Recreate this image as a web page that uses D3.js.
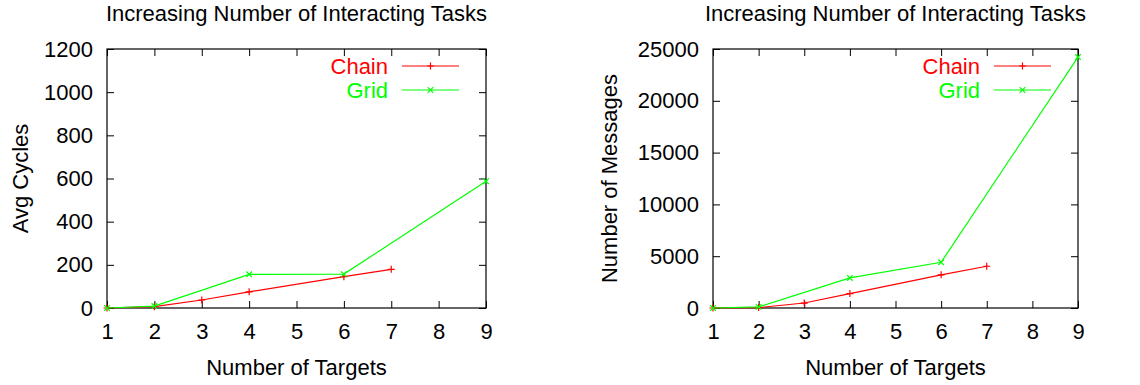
<!DOCTYPE html>
<html>
<head>
<meta charset="utf-8">
<script src="https://cdn.jsdelivr.net/npm/d3@7"></script>
<style>
  html, body { margin: 0; padding: 0; background: #fff; }
  svg { display: block; }
  text { font-family: "Liberation Sans", Arial, Helvetica, sans-serif; }
</style>
</head>
<body>
<svg id="chart" width="1140" height="385"></svg>
<script>
// ---- data ----
const titleText = "Increasing Number of Interacting Tasks";
const xLabelText = "Number of Targets";
const seriesNames = ["Chain", "Grid"];
const seriesColors = ["#ff0000", "#00ff00"];
const xTickValues = [1, 2, 3, 4, 5, 6, 7, 8, 9];

const chainX = [1, 2, 3, 4, 6, 7];
const gridX = [1, 2, 4, 6, 9];

const cyclesChain = [0, 6, 37, 75, 145, 179];
const cyclesGrid = [0, 9, 156, 157, 587];
const cyclesTicks = [0, 200, 400, 600, 800, 1000, 1200];

const msgsChain = [0, 40, 480, 1390, 3200, 4030];
const msgsGrid = [0, 110, 2900, 4415, 24220];
const msgsTicks = [0, 5000, 10000, 15000, 20000, 25000];

const svg = d3.select("#chart");
const FONT = 22;

function panel(opts) {
  const { left, right, top, bottom, yMax, yTicks, yLabel, yLabelX, chainY, gridY } = opts;
  const g = svg.append("g");
  const x = d3.scaleLinear().domain([1, 9]).range([left, right]);
  const y = d3.scaleLinear().domain([0, yMax]).range([bottom, top]);
  const tick = 7;

  const axB = d3.axisBottom(x).tickValues(xTickValues).tickSizeInner(-tick).tickSizeOuter(0).tickPadding(15).tickFormat(d3.format("d"));
  const axT = d3.axisTop(x).tickValues(xTickValues).tickSizeInner(-tick).tickSizeOuter(0).tickFormat("");
  const axL = d3.axisLeft(y).tickValues(yTicks).tickSizeInner(-tick).tickSizeOuter(0).tickPadding(14).tickFormat(d3.format("d"));
  const axR = d3.axisRight(y).tickValues(yTicks).tickSizeInner(-tick).tickSizeOuter(0).tickFormat("");

  function style(sel) {
    sel.select(".domain").remove();
    sel.selectAll("line").attr("stroke", "#000").attr("stroke-width", 1);
    sel.selectAll("text").attr("font-size", FONT).attr("fill", "#000")
      .attr("font-family", "'Liberation Sans', Arial, sans-serif");
  }
  g.append("g").attr("transform", `translate(0,${bottom})`).call(axB).call(style)
    .selectAll("text").attr("dy", "0.71em");
  g.append("g").attr("transform", `translate(0,${top})`).call(axT).call(style);
  g.append("g").attr("transform", `translate(${left},0)`).call(axL).call(style);
  g.append("g").attr("transform", `translate(${right},0)`).call(axR).call(style);

  g.append("rect").attr("x", left).attr("y", top).attr("width", right - left).attr("height", bottom - top)
    .attr("fill", "none").attr("stroke", "#000").attr("stroke-width", 1.2);

  g.append("text").attr("x", (left + right) / 2).attr("y", 21).attr("text-anchor", "middle")
    .attr("font-size", FONT).text(titleText);
  g.append("text").attr("x", (left + right) / 2).attr("y", 375).attr("text-anchor", "middle")
    .attr("font-size", FONT).text(xLabelText);
  g.append("text").attr("transform", `translate(${yLabelX},${(top + bottom) / 2}) rotate(-90)`)
    .attr("text-anchor", "middle").attr("dy", "0.35em").attr("font-size", FONT).text(yLabel);

  const line = d3.line().x(d => x(d[0])).y(d => y(d[1]));
  const series = [
    { xs: chainX, ys: chainY, color: seriesColors[0], marker: "plus", name: seriesNames[0] },
    { xs: gridX, ys: gridY, color: seriesColors[1], marker: "cross", name: seriesNames[1] }
  ];
  const ms = 3.5;
  function marker(sel, type, cx, cy, color) {
    const p = type === "plus"
      ? `M${cx - ms},${cy}L${cx + ms},${cy}M${cx},${cy - ms}L${cx},${cy + ms}`
      : `M${cx - ms * 0.8},${cy - ms * 0.8}L${cx + ms * 0.8},${cy + ms * 0.8}M${cx - ms * 0.8},${cy + ms * 0.8}L${cx + ms * 0.8},${cy - ms * 0.8}`;
    sel.append("path").attr("d", p).attr("stroke", color).attr("stroke-width", 1.2).attr("fill", "none");
  }
  series.forEach((s, i) => {
    const pts = s.xs.map((xv, j) => [xv, s.ys[j]]);
    g.append("path").datum(pts).attr("d", line).attr("fill", "none")
      .attr("stroke", s.color).attr("stroke-width", 1.2);
    pts.forEach(p => marker(g, s.marker, x(p[0]), y(p[1]), s.color));
    const ly = top + 17 + i * 24;
    const lx1 = right - 84, lx2 = right - 27;
    g.append("text").attr("x", lx1 - 14).attr("y", ly).attr("dy", "0.35em").attr("text-anchor", "end")
      .attr("font-size", FONT).attr("fill", s.color).text(s.name);
    g.append("line").attr("x1", lx1).attr("x2", lx2).attr("y1", ly).attr("y2", ly)
      .attr("stroke", s.color).attr("stroke-width", 1.2);
    marker(g, s.marker, (lx1 + lx2) / 2, ly, s.color);
  });
}

panel({ left: 107, right: 486, top: 49, bottom: 308, yMax: 1200, yTicks: cyclesTicks,
        yLabel: "Avg Cycles", yLabelX: 20, chainY: cyclesChain, gridY: cyclesGrid });
panel({ left: 713, right: 1078, top: 49, bottom: 308, yMax: 25000, yTicks: msgsTicks,
        yLabel: "Number of Messages", yLabelX: 609, chainY: msgsChain, gridY: msgsGrid });
</script>
</body>
</html>
